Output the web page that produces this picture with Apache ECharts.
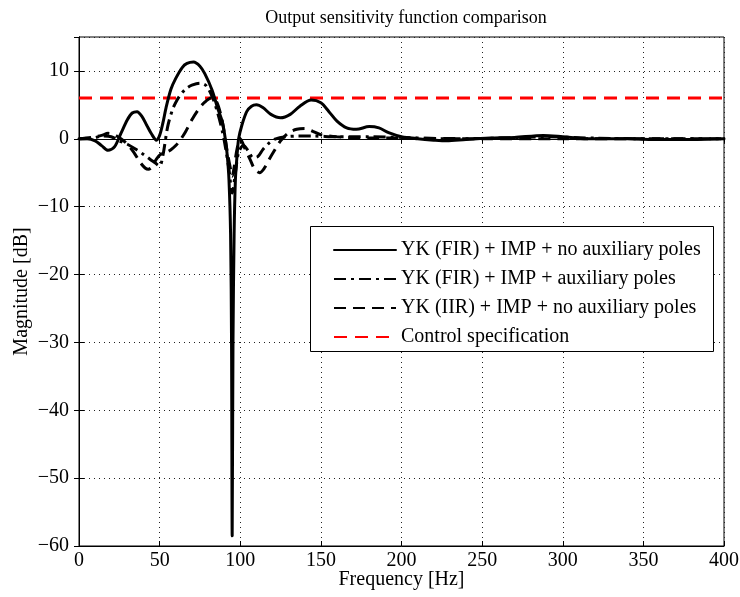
<!DOCTYPE html>
<html><head><meta charset="utf-8">
<script src="https://cdn.jsdelivr.net/npm/echarts@6/dist/echarts.min.js"></script>
<style>html,body{margin:0;padding:0;background:#fff}#c{width:740px;height:597px}</style>
</head><body><div id="c"></div>
<script>
// Tick values
const xTicks = [0,50,100,150,200,250,300,350,400];
const yTicks = [-60,-50,-40,-30,-20,-10,0,10];

// YK (FIR) + IMP + no auxiliary poles
const firF = [0,5,10,14,18,22,26,30,33,36,39,42,45,48,50,52,54,57,60,64,67,71,75,78,82.5,86,89,91,92,93,94,94.6,95,95.5,96.2,97,98,99,101,104,107,110,114,119,125,131,137,144,150,155,160,166,172,180,186,192,200,210,220,228,240,255,270,288,300,315,340,360,380,400];
const firDb = [0,0,-0.3,-1,-1.7,-1.2,0.8,2.8,3.8,4,3.3,2,0.7,-0.2,0.5,2.3,4.6,7.3,8.9,10.5,11.1,11.3,10.7,9.6,7.2,4.5,2.4,-0.5,-2.6,-6,-14,-30,-58.5,-30,-14,-6,-2.5,0,2,4,4.8,5,4.6,3.6,3.1,3.6,4.8,5.7,5.3,4,2.6,1.6,1.4,1.8,1.6,0.9,0.3,0,-0.2,-0.3,-0.1,0.1,0.2,0.5,0.3,0,0,-0.1,-0.1,0];

// YK (FIR) + IMP + auxiliary poles
const auxF = [0,8,15,20,25,30,35,40,44,47,50,52,55,58,61,64,67,70,75,79,83,86,89,91,93,95,97,99,102,105,108,111,114,118,122,128,135,145,160,180,200,230,260,290,320,360,400];
const auxDb = [0,0.1,0.4,0.3,-0.3,-0.8,-1.5,-2.3,-3,-3.5,-4,-2.5,1.8,4.3,5.8,6.8,7.5,7.9,8.2,7.8,6,3.8,1,-1.5,-4.5,-8,-5,-2,-1,-1.8,-2.8,-2.6,-1.6,-0.6,0,0.3,0.4,0.4,0.3,0.3,0.2,0,0.1,0.3,0.1,0,0];

// YK (IIR) + IMP + no auxiliary poles
const iirF = [0,8,14,18,22,26,30,34,38,41,43,45,48,51,54,57,60,63,66,70,74,78,82,85,88,90,92,94,95,96,98,100,103,106,109,112,115,118,121,125,130,135,140,145,150,160,180,200,250,300,350,400];
const iirDb = [0,0.2,0.5,0.8,0.6,0,-0.8,-2,-3.5,-4.3,-4.5,-4.2,-3,-2.2,-2,-1.6,-1,-0.1,1,2.8,4.3,5.4,6,5.6,3.5,1,-2,-4.5,-5.5,-4.5,-1.5,0,-1.5,-3,-4.5,-5,-4.3,-3,-1.8,-0.3,0.9,1.4,1.5,1.1,0.6,0.3,0.1,0.1,0,0,0,0];

// Control specification
const specF = [0,400];
const specDb = [6,6];

const names = ['YK (FIR) + IMP + no auxiliary poles','YK (FIR) + IMP + auxiliary poles','YK (IIR) + IMP + no auxiliary poles','Control specification'];

const zip = (a,b)=>a.map((v,i)=>[v,b[i]]);
const serif = 'Liberation Serif';
const minus = v => String(v).replace('-', '\u2212');
const grid = {left:79,right:16,top:37,bottom:51};
const split = {show:true,lineStyle:{color:'#222',width:1,type:[1,4]}};

const chart = echarts.init(document.getElementById('c'));
chart.setOption({
  animation:false,
  backgroundColor:'#fff',
  title:{text:'Output sensitivity function comparison',left:401,top:4,textAlign:'center',
    textStyle:{fontFamily:serif,fontSize:18,fontWeight:'normal',color:'#000'}},
  grid:Object.assign({show:true,borderColor:'#000',borderWidth:1,backgroundColor:'transparent',
    containLabel:false,outerBoundsMode:'none'},grid),
  legend:{orient:'vertical',left:328,top:235,itemWidth:62,itemHeight:14,itemGap:9,
    data:names,selectedMode:false,
    itemStyle:{opacity:0},
    textStyle:{fontFamily:serif,fontSize:20,color:'#000'}},
  graphic:[{type:'rect',left:310,top:226,z:1,shape:{width:403,height:125},
    style:{fill:'#fff',stroke:'#000',lineWidth:1}}],
  xAxis:[{type:'value',min:0,max:400,interval:50,
    name:'Frequency [Hz]',nameLocation:'middle',nameGap:24,nameMoveOverlap:false,
    nameTextStyle:{fontFamily:serif,fontSize:20,color:'#000'},
    axisLine:{show:true,onZero:false,lineStyle:{color:'#000'}},
    axisTick:{show:true,inside:true,length:5,lineStyle:{color:'#000'}},
    axisLabel:{fontFamily:serif,fontSize:20,color:'#000',margin:5,formatter:minus},
    splitLine:split},
   {type:'value',position:'top',min:0,max:400,interval:50,
    axisLine:{show:true,lineStyle:{color:'#000'}},
    axisTick:{show:true,inside:true,length:5,lineStyle:{color:'#000'}},
    axisLabel:{show:false},splitLine:{show:false}}],
  yAxis:[{type:'value',min:-60,max:15,interval:10,
    name:'Magnitude [dB]',nameLocation:'middle',nameGap:47,nameRotate:90,nameMoveOverlap:false,
    nameTextStyle:{fontFamily:serif,fontSize:20,color:'#000'},
    axisLine:{show:true,onZero:false,lineStyle:{color:'#000'}},
    axisTick:{show:true,inside:true,length:5,lineStyle:{color:'#000'}},
    axisLabel:{fontFamily:serif,fontSize:20,color:'#000',margin:10,showMaxLabel:false,formatter:minus},
    splitLine:split},
   {type:'value',position:'right',min:-60,max:15,interval:10,
    axisLine:{show:true,lineStyle:{color:'#000'}},
    axisTick:{show:true,inside:true,length:5,lineStyle:{color:'#000'}},
    axisLabel:{show:false},splitLine:{show:false}}],
  series:[
    {name:names[0],type:'line',data:zip(firF,firDb),showSymbol:false,symbol:'none',smooth:0.3,z:5,
      lineStyle:{color:'#000',width:3,type:'solid',cap:'round',join:'round'},itemStyle:{color:'#000'}},
    {name:names[1],type:'line',data:zip(auxF,auxDb),showSymbol:false,symbol:'none',smooth:0.3,z:4,
      lineStyle:{color:'#000',width:3,type:[12,5,3,5]},itemStyle:{color:'#000'}},
    {name:names[2],type:'line',data:zip(iirF,iirDb),showSymbol:false,symbol:'none',smooth:0.3,z:4,
      lineStyle:{color:'#000',width:3,type:[12,7]},itemStyle:{color:'#000'}},
    {name:names[3],type:'line',data:zip(specF,specDb),showSymbol:false,symbol:'none',z:3,
      lineStyle:{color:'#ff0000',width:3,type:[13,8]},itemStyle:{color:'#ff0000'}}
  ]
});
</script></body></html>
